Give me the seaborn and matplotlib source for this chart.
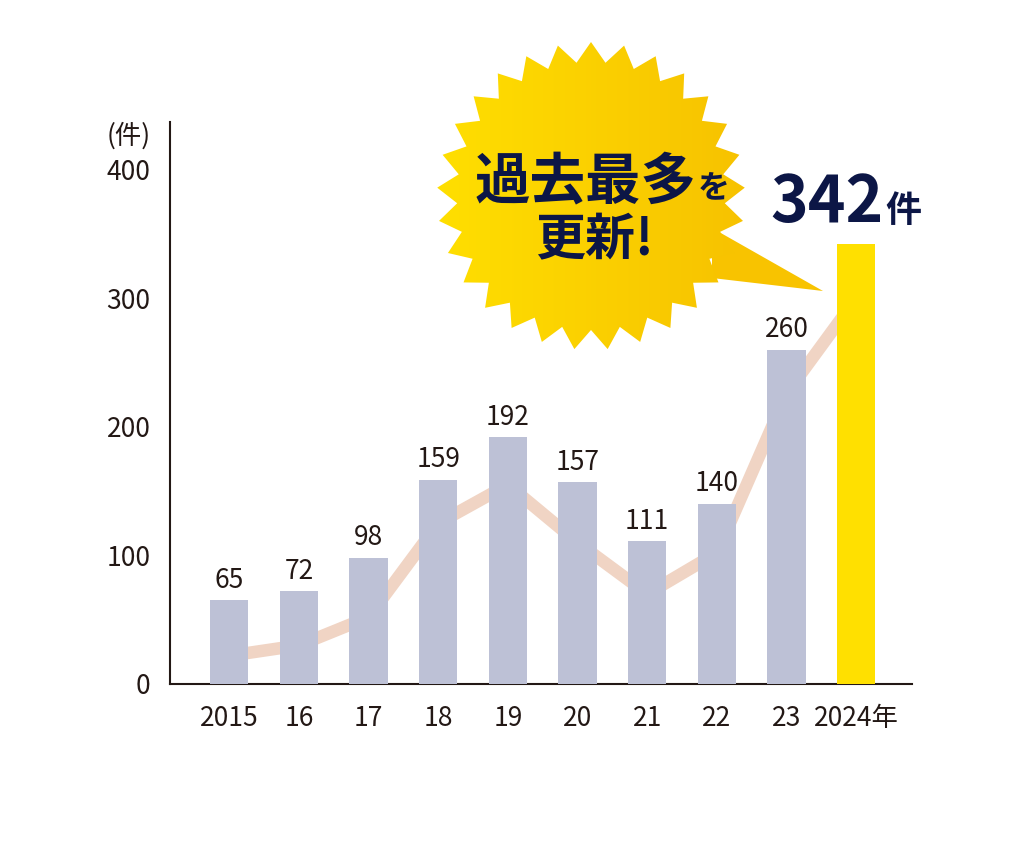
import numpy as np
import pandas as pd
import matplotlib
matplotlib.use("Agg")
import matplotlib.pyplot as plt
import seaborn as sns
from matplotlib.patches import Polygon
from matplotlib.colors import LinearSegmentedColormap

# DATA
years = ["2015", "16", "17", "18", "19", "20", "21", "22", "23", "2024年"]
counts = [65, 72, 98, 159, 192, 157, 111, 140, 260, 342]
trend = [22, 30, 52, 125, 155, 110, 70, 102, 226, 300]
yticks = [0, 100, 200, 300, 400]

BAR_GREY = "#BDC1D6"
BAR_YELLOW = "#FFE000"
LINE_COLOR = "#F0D4C4"
INK = "#231815"
NAVY = "#0C1646"

bar_colors = [BAR_GREY] * (len(years) - 1) + [BAR_YELLOW]

sns.set_theme(style="white")
plt.rcParams["font.family"] = ["Noto Sans CJK JP", "DejaVu Sans"]

fig = plt.figure(figsize=(10.24, 8.42), dpi=100)
ax = fig.add_axes([170 / 1024, 158 / 842, 742 / 1024, 562 / 842])

df = pd.DataFrame({"year": years, "count": counts})
sns.barplot(data=df, x="year", y="count", hue="year", palette=bar_colors,
            legend=False, width=0.55, saturation=1, ax=ax, zorder=3,
            linewidth=0, edgecolor="none")

# trend line behind the bars
ax.plot(np.arange(len(years)), trend, color=LINE_COLOR, lw=9, zorder=2,
        solid_capstyle="butt")

ax.set_xlim(-0.85, 9.8)
ax.set_ylim(0, 437)
ax.set_yticks(yticks)
ax.set_xlabel("")
ax.set_ylabel("")
ax.tick_params(axis="y", length=0, pad=14, labelsize=19, labelcolor=INK)
ax.tick_params(axis="x", length=0, pad=15, labelsize=19, labelcolor=INK)
sns.despine(ax=ax)
for s in ["left", "bottom"]:
    ax.spines[s].set_color(INK)
    ax.spines[s].set_linewidth(1.5)

# value labels
for i, v in enumerate(counts[:-1]):
    ax.annotate(str(v), (i, v), xytext=(0, 9), textcoords="offset points",
                ha="center", va="baseline", fontsize=19, color=INK)

ax.annotate("(件)", xy=(0, 426), xycoords=("axes fraction", "data"),
            xytext=(-14, 0), textcoords="offset points",
            ha="right", va="center", fontsize=19, color=INK,
            annotation_clip=False)

# big total above last bar
last = len(counts) - 1
ax.annotate(str(counts[last]), (last, counts[last]), xytext=(20, 16),
            textcoords="offset points", ha="right", va="baseline",
            fontsize=46, fontweight="bold", color=NAVY,
            annotation_clip=False)
ax.annotate("件", (last, counts[last]), xytext=(21, 16),
            textcoords="offset points", ha="left", va="baseline",
            fontsize=26, fontweight="bold", color=NAVY, annotation_clip=False)

# STARBURST CALLOUT (overlay in pixel coordinates)
ov = fig.add_axes([0, 0, 1, 1], zorder=5)
ov.axis("off")

cx, cy = 591, 196
n_spikes = 29
ang = np.linspace(0, 2 * np.pi, 2 * n_spikes, endpoint=False)
rad = np.where(np.arange(2 * n_spikes) % 2 == 0, 154, 134)
pts = np.column_stack([cx + rad * np.sin(ang), cy - rad * np.cos(ang)])

tail = Polygon([(712, 228), (712, 278), (823, 291)], closed=True,
               facecolor="#F8C300", edgecolor="none", zorder=1)
ov.add_patch(tail)

star = Polygon(pts, closed=True, facecolor="none", edgecolor="none", zorder=2)
ov.add_patch(star)
cmap = LinearSegmentedColormap.from_list("burst", ["#FFDF00", "#F7C200"])
grad = np.linspace(0, 1, 256).reshape(1, -1)
im = ov.imshow(grad, cmap=cmap, extent=(437, 745, 352, 40), aspect="auto",
               zorder=2)
im.set_clip_path(star)

ov.text(697, 198, "過去最多", ha="right", va="baseline", fontsize=40,
        fontweight="bold", color=NAVY, zorder=3)
ov.text(698, 198, "を", ha="left", va="baseline", fontsize=23,
        fontweight="bold", color=NAVY, zorder=3)
ov.text(594, 255, "更新!", ha="center", va="baseline", fontsize=36,
        fontweight="bold", color=NAVY, zorder=3)

ov.set_xlim(0, 1024)
ov.set_ylim(842, 0)

fig.savefig("out.png", dpi=100, facecolor="white")
